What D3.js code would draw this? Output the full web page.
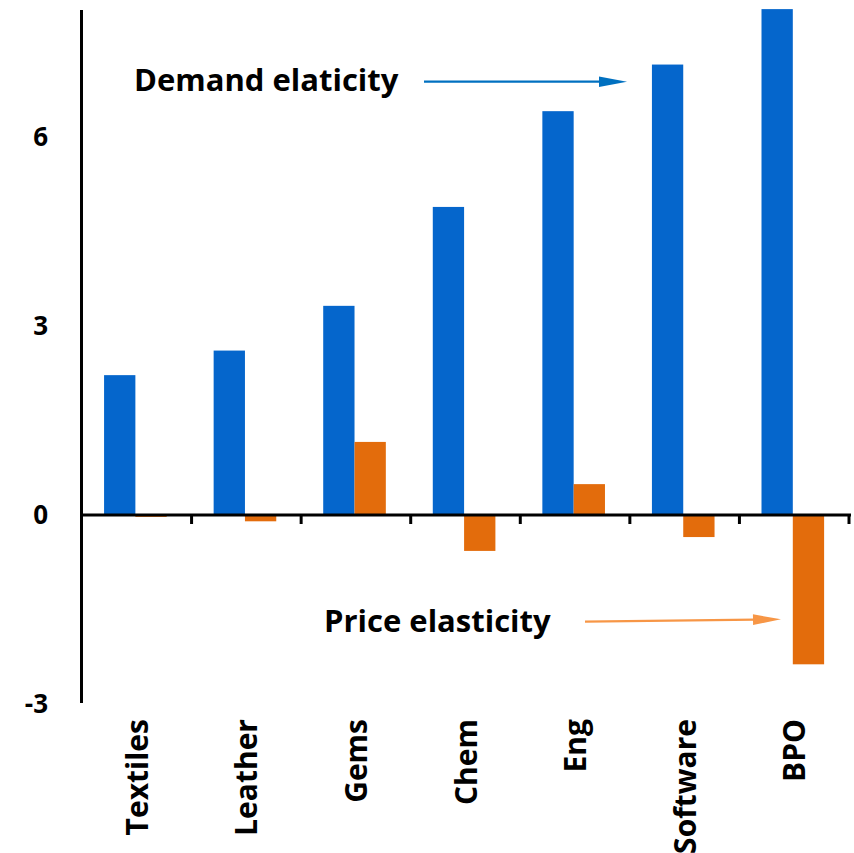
<!DOCTYPE html>
<html>
<head>
<meta charset="utf-8">
<script src="https://cdn.jsdelivr.net/npm/d3@7"></script>
<style>
  html, body { margin: 0; padding: 0; background: #fff; }
  svg { display: block; }
  text { font-family: "Open Sans", "Noto Sans", sans-serif; font-weight: 700; fill: #000; }
</style>
</head>
<body>
<svg id="chart" width="854" height="853"></svg>
<script>
// Export elasticities by sector
const categories = ["Textiles", "Leather", "Gems", "Chem", "Eng", "Software", "BPO"];
const demandElasticity = [2.22, 2.61, 3.32, 4.89, 6.41, 7.15, 8.03];
const priceElasticity = [-0.03, -0.1, 1.16, -0.57, 0.49, -0.35, -2.37];
const yTicks = [-3, 0, 3, 6];
const seriesKeys = ["demand", "price"];

const colors = { demand: "#0566CC", price: "#E36C0C" };

const svg = d3.select("#chart");

const x0 = d3.scaleBand().domain(categories).range([82, 849]).paddingInner(0).paddingOuter(0);
const x1 = d3.scaleBand().domain(seriesKeys).range([0, x0.bandwidth()])
  .paddingInner(0).paddingOuter(0.75).align(0.47);
const y = d3.scaleLinear().domain([-3, 8]).range([704, 11]);

const rows = categories.map((c, i) => ({
  category: c,
  values: [
    { key: "demand", value: demandElasticity[i] },
    { key: "price", value: priceElasticity[i] }
  ]
}));

// Bars
const groups = svg.append("g").selectAll("g").data(rows).join("g")
  .attr("transform", d => `translate(${x0(d.category)},0)`);

groups.selectAll("rect").data(d => d.values).join("rect")
  .attr("x", d => x1(d.key))
  .attr("width", x1.bandwidth())
  .attr("y", d => y(Math.max(0, d.value)))
  .attr("height", d => Math.abs(y(d.value) - y(0)))
  .attr("fill", d => colors[d.key]);

// Horizontal zero axis with tick marks at band boundaries
const xAxis = svg.append("g");
xAxis.append("line")
  .attr("x1", 80).attr("x2", x0.range()[1] + 2)
  .attr("y1", y(0)).attr("y2", y(0))
  .attr("stroke", "#000").attr("stroke-width", 3);
const boundaries = categories.map(c => x0(c) + x0.bandwidth());
xAxis.selectAll("line.tick").data(boundaries).join("line")
  .attr("class", "tick")
  .attr("x1", d => d).attr("x2", d => d)
  .attr("y1", y(0)).attr("y2", y(0) + 9)
  .attr("stroke", "#000").attr("stroke-width", 3);

// Vertical axis
svg.append("line")
  .attr("x1", 81.5).attr("x2", 81.5)
  .attr("y1", 10).attr("y2", 703)
  .attr("stroke", "#000").attr("stroke-width", 3);

svg.append("g").selectAll("text").data(yTicks).join("text")
  .attr("x", 48)
  .attr("y", d => y(d))
  .attr("dy", "0.36em")
  .attr("text-anchor", "end")
  .attr("font-size", 26)
  .text(d => d);

// Category labels, rotated
svg.append("g").selectAll("text").data(categories).join("text")
  .attr("transform", d => `translate(${x0(d) + x0.bandwidth() / 2 + 11},719) rotate(-90)`)
  .attr("text-anchor", "end")
  .attr("font-size", 30)
  .text(d => d);

// Annotations
function arrow(x1p, y1p, x2p, y2p, color) {
  const g = svg.append("g");
  const ang = Math.atan2(y2p - y1p, x2p - x1p);
  const headLen = 28, headHalf = 5.3;
  const bx = x2p - headLen * Math.cos(ang), by = y2p - headLen * Math.sin(ang);
  g.append("line")
    .attr("x1", x1p).attr("y1", y1p).attr("x2", bx + 2 * Math.cos(ang)).attr("y2", by + 2 * Math.sin(ang))
    .attr("stroke", color).attr("stroke-width", 2.2);
  const px = -Math.sin(ang), py = Math.cos(ang);
  g.append("path")
    .attr("d", `M${x2p},${y2p}L${bx + px * headHalf},${by + py * headHalf}L${bx - px * headHalf},${by - py * headHalf}Z`)
    .attr("fill", color);
}

svg.append("text").attr("x", 134).attr("y", 91).attr("font-size", 31).text("Demand elaticity");
arrow(424, 81.7, 627, 81.7, "#0070C0");

svg.append("text").attr("x", 324).attr("y", 632).attr("font-size", 31).text("Price elasticity");
arrow(585, 621.7, 781, 619.3, "#F79646");
</script>
</body>
</html>
